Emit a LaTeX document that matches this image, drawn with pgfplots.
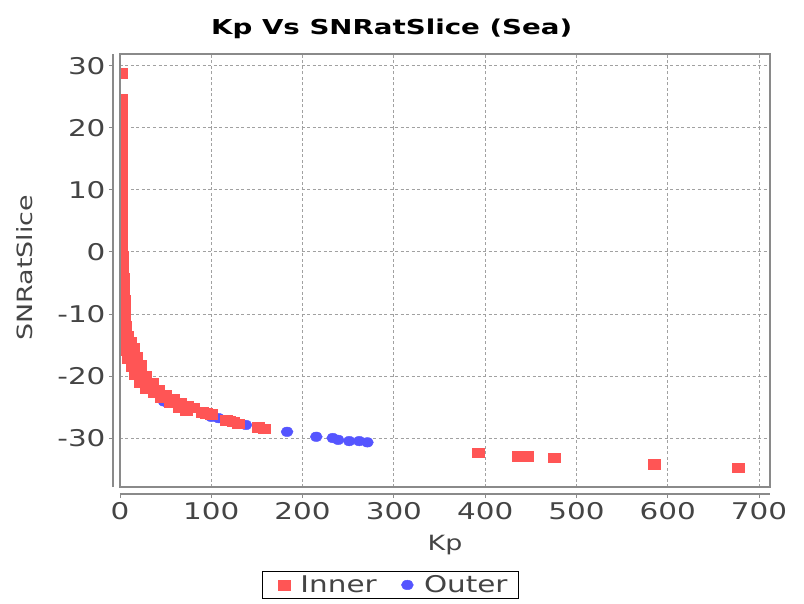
\documentclass[border=0pt]{standalone}
\usepackage{fontspec}
\setmainfont{DejaVu Sans}[FakeStretch=1.28]
\newfontfamily\titlefont{DejaVu Sans Bold}[FakeStretch=1.35]
\usepackage{pgfplots}
\pgfplotsset{compat=1.18}

\definecolor{inner}{HTML}{FF5555}
\definecolor{outer}{HTML}{5555FF}
\definecolor{txt}{HTML}{444444}
\definecolor{frame}{HTML}{8A8A8A}

\begin{document}
\begin{tikzpicture}
\begin{axis}[
    name=ax,
    scale only axis,
    width=650pt, height=433pt,
    xmin=0, xmax=712,
    ymin=-37.9, ymax=31.9,
    xtick={0,100,...,700},
    ytick={-30,-20,...,30},
    axis x line*=bottom,
    axis y line*=left,
    axis x line shift=7pt,
    axis y line shift=7pt,
    axis line style={frame, line width=1.2pt},
    grid=major,
    major grid style={frame!80, dash pattern=on 3pt off 2.5pt, line width=0.8pt},
    tick style={frame, line width=0.8pt},
    tick align=outside,
    major tick length=4pt,
    clip marker paths=true,
    /pgf/number format/assume math mode=true,
    ticklabel style={font=\fontsize{23}{25}\selectfont, text=txt},
    xticklabel style={yshift=-1pt},
    title={Kp Vs SNRatSlice (Sea)},
    title style={at={(axis description cs:0.418,1)}, anchor=base, yshift=13pt,
        font=\titlefont\fontsize{20.5}{24}\selectfont},
    xlabel={Kp},
    ylabel={SNRatSlice},
    every axis x label/.style={at={(axis description cs:0.5,0)}, anchor=base,
        yshift=-63pt, font=\fontsize{21}{24}\selectfont, text=txt},
    every axis y label/.style={at={([xshift=-95pt]axis description cs:0,0.506)},
        rotate=90, anchor=center, font=\fontsize{21}{24}\selectfont, text=txt},
    legend style={at={(axis description cs:0.416,-0.194)}, anchor=north,
        legend columns=2, draw=black, line width=1.3pt,
        inner xsep=9pt, inner ysep=2pt,
        font=\fontsize{23}{25}\selectfont, text=txt,
        /tikz/every even column/.append style={column sep=16pt}},
    legend image code/.code={%
        \path (0pt,0pt) (26pt,0pt);
        \draw[#1, line width=0.4pt] plot coordinates {(12pt,0pt)};},
]

% Outer first so that the Inner squares lie over it
\addplot[only marks, mark=*, mark size=4.8pt, color=outer,
    mark options={xscale=1.25}, forget plot] coordinates {
    (20,-18.8) (30,-21.4) (48,-24.1) (52,-24.3) (70,-25.3) (100,-26.6)
    (108,-26.8) (125,-27.4) (138,-27.9) (183,-29.0) (215,-29.8) (233,-30.0)
    (239,-30.3) (251,-30.5) (262,-30.5) (271,-30.7)
};

\addplot[only marks, mark=square*, mark size=4.8pt, color=inner,
    mark options={xscale=1.25}] coordinates {
    (1.5,28.8)
    (1.5,24.6) (1.2,23.4) (1.5,22.2) (1.0,21.0) (1.5,19.8) (1.2,18.6)
    (1.5,17.4) (1.0,16.2) (1.5,15.0) (1.2,13.8) (1.5,12.6) (1.0,11.4)
    (1.5,10.2) (1.2,9.0) (1.5,7.8) (1.0,6.6) (1.5,5.4) (1.2,4.2)
    (1.5,3.0) (1.8,1.8) (1.5,0.6) (2.0,-0.6) (2.2,-1.8) (2.5,-3.0)
    (3.0,-4.2) (3.5,-5.4) (4.0,-6.6) (4.5,-7.8) (4.8,-9.0) (5.0,-10.2)
    (1.0,-5.0) (1.0,-8.0) (1.0,-11.0) (1.5,-13.0) (2.0,-14.5)
    (6,-12.0) (8,-13.5) (11,-14.5) (14,-15.5) (18,-17.0) (22,-18.3)
    (28,-20.0) (35,-21.2) (42,-22.2) (50,-23.0) (58,-23.7) (66,-24.3)
    (74,-24.8) (80,-25.1)
    (4,-14.5) (6,-15.8) (9,-17.2) (13,-18.5) (17,-19.8) (22,-21.1)
    (29,-22.0) (37,-22.7) (45,-23.5) (55,-24.3) (65,-25.0) (72,-25.5)
    (90,-25.8) (94,-26.0) (100,-26.2) (116,-27.1) (120,-27.2) (124,-27.4)
    (130,-27.7) (151,-28.3) (158,-28.5)
    (392,-32.4) (436,-32.9) (446,-32.9) (476,-33.2) (585,-34.2) (677,-34.8)
};
\addlegendentry{Inner}
\addlegendimage{only marks, mark=*, mark size=4.8pt, color=outer, mark options={xscale=1.25}}
\addlegendentry{Outer}
\end{axis}
\draw[frame, line width=1.2pt] (ax.south west) rectangle (ax.north east);
\pgfresetboundingbox
\path ([xshift=-120pt,yshift=-116pt]ax.south west) rectangle ([xshift=34pt,yshift=54pt]ax.north east);
\end{tikzpicture}
\end{document}
